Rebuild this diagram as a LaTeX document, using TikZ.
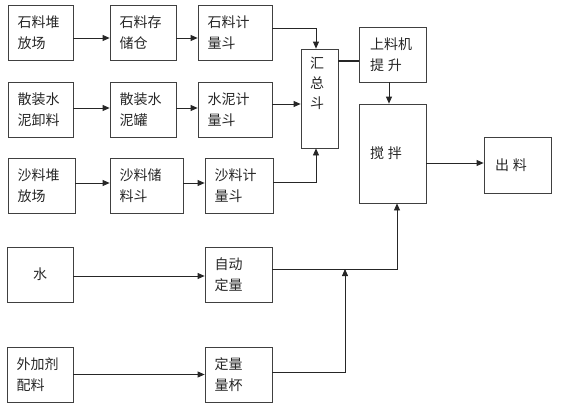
\documentclass[tikz,border=0pt]{standalone}
\usepackage{fontspec}
\newfontfamily\cjk{Noto Sans CJK SC}
\usetikzlibrary{arrows.meta}
\begin{document}
\begin{tikzpicture}[x=1pt,y=-1pt,
  box/.style={draw=black!75, line width=0.8pt, minimum height=55pt, inner xsep=9.5pt, inner ysep=0pt,
    align=left, text=black!85, font=\cjk\fontsize{14}{20.5}\selectfont, text width=#1},
  arr/.style={draw=black!85, line width=0.8pt, -{Triangle[length=7pt,width=6pt]}},
  ln/.style={draw=black!85, line width=0.8pt},
  lbl/.style={text=black!85, font=\cjk\fontsize{14}{20}\selectfont, align=center, inner sep=0pt}]
\useasboundingbox (0,0) rectangle (574,407);
% row 1
\node[box=46pt] (a1) at (40.5,32.5) {石料堆\\放场};
\node[box=47pt] (a2) at (143,32.5) {石料存\\储仓};
\node[box=55pt] (a3) at (235,32.5) {石料计\\量斗};
% row 2
\node[box=46pt] (b1) at (40.5,109.5) {散装水\\泥卸料};
\node[box=47pt] (b2) at (143,109.5) {散装水\\泥罐};
\node[box=55pt] (b3) at (235,109.5) {水泥计\\量斗};
% row 3
\node[box=48pt] (c1) at (41.5,185.5) {沙料堆\\放场};
\node[box=54pt] (c2) at (146.5,185.5) {沙料储\\料斗};
\node[box=49pt] (c3) at (239,185.5) {沙料计\\量斗};
% collecting hopper
\node[box=18pt, minimum height=99pt] (hz) at (319.5,98.5) {};
\node[lbl] (hzt) at (317,83) {汇\\总\\斗};
% lift and mixer
\node[box=45pt, inner xsep=11pt] (sl) at (392.5,54.5) {上料机\\提\hspace{4pt}升};
\node[box=45pt, inner xsep=11pt, minimum height=99pt] (jb) at (392.5,153.5) {搅\hspace{4pt}拌};
\node[box=45pt, inner xsep=11pt, minimum height=56pt] (cl) at (517.5,165) {\raisebox{-4pt}{出\hspace{4pt}料}};
% water and admixture
\node[box=47pt, align=center] (w) at (40,274.5) {水};
\node[box=48pt] (zd) at (238.5,274.5) {自动\\定量};
\node[box=47pt] (wj) at (40,374.5) {外加剂\\配料};
\node[box=48pt] (dl) at (238.5,374.5) {定量\\量杯};
% connectors row 1
\draw[arr] ([yshift=-5.5pt]a1.east) -- ([yshift=-5.5pt]a2.west);
\draw[arr] ([yshift=-5.5pt]a2.east) -- ([yshift=-5.5pt]a3.west);
\draw[arr] ([yshift=4.5pt]a3.east) -| ([xshift=-3.5pt]hz.north);
% row 2
\draw[arr] ([yshift=1.5pt]b1.east) -- ([yshift=1.5pt]b2.west);
\draw[arr] ([yshift=1.5pt]b2.east) -- ([yshift=1.5pt]b3.west);
\coordinate (b3o) at ([yshift=5.5pt]b3.east);
\draw[arr] (b3o) -- (b3o -| hz.west);
% row 3
\coordinate (c1o) at ([yshift=2.5pt]c1.east);
\draw[arr] (c1o) -- (c1o -| c2.west);
\coordinate (c2o) at ([yshift=2.5pt]c2.east);
\draw[arr] (c2o) -- (c2o -| c3.west);
\draw[arr] ([yshift=3.5pt]c3.east) -| ([xshift=-3.5pt]hz.south);
% hopper to lift
\coordinate (hzo) at ([yshift=37.5pt]hz.east);
\draw[ln, line width=1.8pt] (hzo) -- (hzo -| sl.west);
\draw[arr] ([xshift=-3.5pt]sl.south) -- ([xshift=-3.5pt]jb.north);
\coordinate (jbo) at ([yshift=-9.5pt]jb.east);
\draw[arr] (jbo) -- (jbo -| cl.west);
% water / admixture
\draw[arr] ([yshift=-1.5pt]w.east) -- ([yshift=-1.5pt]zd.west);
\draw[arr] (wj.east) -- (dl.west);
\draw[arr] ([yshift=5.5pt]zd.east) -| ([xshift=4.5pt]jb.south);
\coordinate (jn) at (345,269);
\draw[arr] ([yshift=2.5pt]dl.east) -| (jn);
\end{tikzpicture}
\end{document}
